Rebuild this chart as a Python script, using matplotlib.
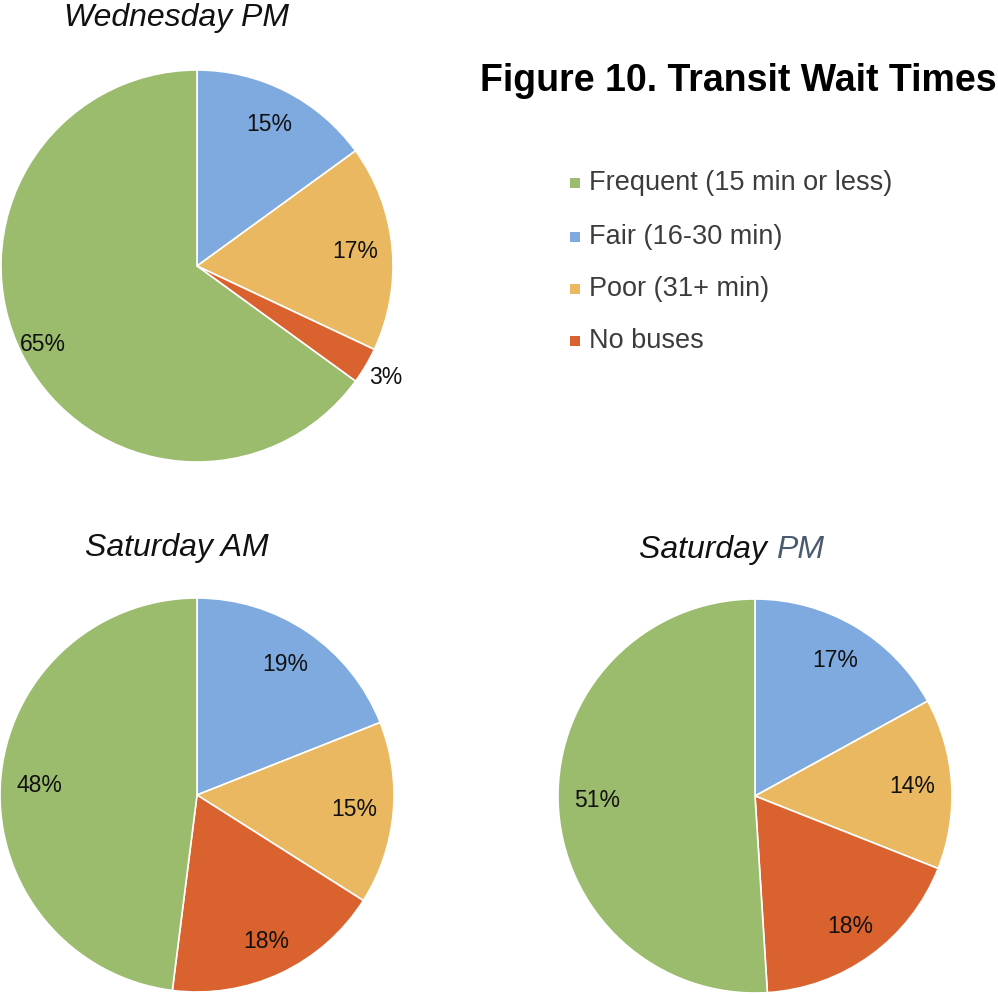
import matplotlib.pyplot as plt
import numpy as np

plt.rcParams['font.family'] = ['Liberation Sans', 'DejaVu Sans']

categories = ['Frequent (15 min or less)', 'Fair (16-30 min)', 'Poor (31+ min)', 'No buses']
colors = ['#9bbb6d', '#7eaae0', '#ebb862', '#d9622e']

# values in drawing order: Fair, Poor, No buses, Frequent (clockwise from top)
wed_pm = [15, 17, 3, 65]
sat_am = [19, 15, 18, 48]
sat_pm = [17, 14, 18, 51]
pie_colors = [colors[1], colors[2], colors[3], colors[0]]

W, H = 998, 994
fig = plt.figure(figsize=(W / 100, H / 100), dpi=100)


def draw_pie(cx, cy, r, vals, dists):
    ax = fig.add_axes([(cx - r) / W, 1 - (cy + r) / H, 2 * r / W, 2 * r / H])
    wedges, _ = ax.pie(vals, colors=pie_colors, startangle=90, counterclock=False,
                       radius=1, wedgeprops=dict(edgecolor='white', linewidth=1.2))
    ax.set_xlim(-1, 1)
    ax.set_ylim(-1, 1)
    ax.set_aspect('equal')
    ax.axis('off')
    for w, v, d in zip(wedges, vals, dists):
        ang = np.deg2rad((w.theta1 + w.theta2) / 2)
        ax.text(d * np.cos(ang), d * np.sin(ang), f'{v}%', ha='center', va='center',
                fontsize=16.5, color='#111111', clip_on=False)
    return ax


draw_pie(197, 266, 196, wed_pm, [0.81, 0.81, 1.12, 0.88])
draw_pie(197, 795, 197, sat_am, [0.8, 0.8, 0.82, 0.8])
draw_pie(755, 796, 197, sat_pm, [0.8, 0.8, 0.82, 0.8])

fig.text(177 / W, 1 - 18 / H, 'Wednesday PM', style='italic', fontsize=23,
         ha='center', va='center', color='#111111')
fig.text(177 / W, 1 - 548 / H, 'Saturday AM', style='italic', fontsize=23,
         ha='center', va='center', color='#111111')
t = fig.text(639 / W, 1 - 550 / H, 'Saturday ', style='italic', fontsize=23,
             ha='left', va='center', color='#111111')
fig.canvas.draw()
bb = t.get_window_extent()
fig.text(bb.x1 / W, 1 - 550 / H, 'PM', style='italic', fontsize=23,
         ha='left', va='center', color='#4a5a70')

fig.text(738 / W, 1 - 81 / H, 'Figure 10. Transit Wait Times', fontsize=27,
         fontweight='bold', ha='center', va='center', color='black')

rows_y = [183, 237, 289, 341]
for lab, col, y in zip(categories, colors, rows_y):
    fig.patches.append(plt.Rectangle((570 / W, 1 - (y + 5) / H), 10 / W, 10 / H,
                                     transform=fig.transFigure, facecolor=col,
                                     edgecolor='none'))
    fig.text(589 / W, 1 - y / H, lab, fontsize=19.5, ha='left', va='center',
             color='#3c3c3c')

fig.savefig('out.png', dpi=100)
